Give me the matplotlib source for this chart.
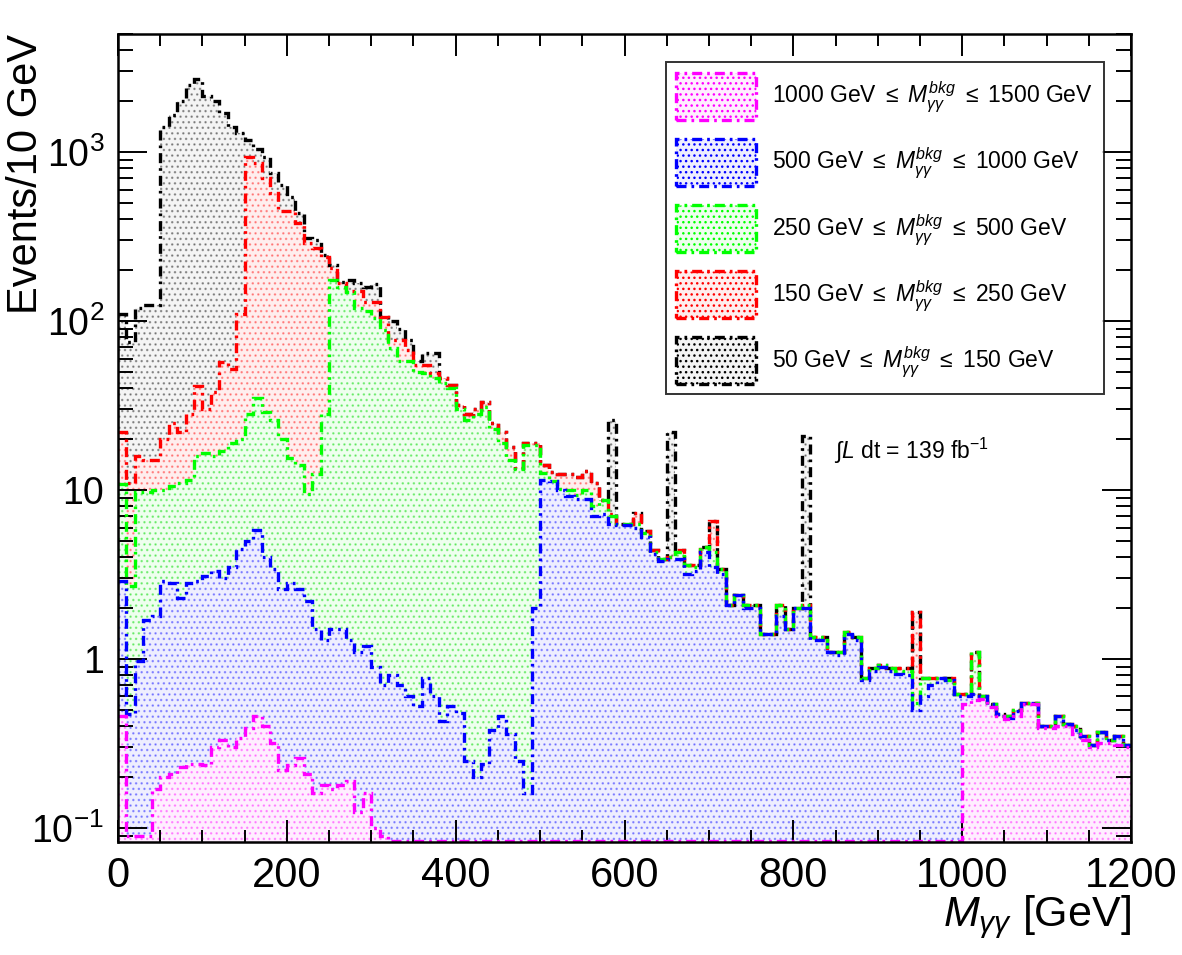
import numpy as np
import matplotlib
matplotlib.use("Agg")
import matplotlib.pyplot as plt
from matplotlib.patches import Patch
from matplotlib.ticker import MultipleLocator, LogLocator, FuncFormatter, NullFormatter

plt.rcParams["font.family"] = ["Liberation Sans", "DejaVu Sans"]
plt.rcParams["mathtext.fontset"] = "custom"
plt.rcParams["mathtext.rm"] = "Liberation Sans"
plt.rcParams["mathtext.it"] = "Liberation Sans:italic"
plt.rcParams["mathtext.bf"] = "Liberation Sans:bold"
plt.rcParams["hatch.linewidth"] = 1.0

# 120 bins of 10 GeV, 0 - 1200 GeV
bin_width = 10
bin_edges = np.arange(0, 1200 + bin_width, bin_width)

# stacked levels (top edge of every layer, as drawn), events / 10 GeV
level_50_150 = [
    110, 75, 120, 125, 125, 1400, 1650, 2000, 2500, 2700,
    2150, 2000, 1700, 1400, 1300, 1180, 1050, 930, 750, 640,
    540, 435, 310, 300, 245, 215, 170, 175, 168, 160,
    165, 105, 100, 90, 77, 58, 65, 65, 46, 42,
    32, 28, 30, 33, 25, 22, 18, 13.5, 19, 19,
    14, 12.7, 12.5, 12.5, 12, 13, 11, 8.7, 26, 6.3,
    6.3, 7.3, 5.7, 4.4, 3.9, 22, 4.4, 3.6, 3.6, 4.6,
    6.6, 3.4, 2.1, 2.4, 2.1, 2.1, 1.4, 1.4, 2.1, 1.5,
    2.0, 21, 1.35, 1.35, 1.1, 1.1, 1.45, 1.35, 0.77, 0.88,
    0.92, 0.88, 0.88, 0.88, 1.9, 0.77, 0.77, 0.77, 0.77, 0.62,
    0.62, 1.1, 0.6, 0.54, 0.47, 0.46, 0.5, 0.55, 0.55, 0.4,
    0.4, 0.46, 0.41, 0.4, 0.35, 0.31, 0.37, 0.33, 0.35, 0.31,
]

level_150_250 = [
    22, 11, 16, 15, 15, 20, 25, 22, 28, 41,
    30, 38, 57, 52, 110, 930, 860, 700, 570, 450,
    450, 380, 290, 270, 240, 205, 168, 150, 150, 130,
    130, 105, 77, 77, 67, 55, 55, 49, 46, 42,
    32, 28, 30, 33, 25, 22, 18, 13.5, 19, 19,
    14, 12.7, 12.5, 12.5, 12, 13, 11, 8.7, 7.2, 6.3,
    6.3, 7.3, 5.7, 4.4, 3.9, 4.0, 4.4, 3.6, 3.6, 4.6,
    6.6, 3.4, 2.1, 2.4, 2.1, 2.1, 1.4, 1.4, 2.1, 1.5,
    2.0, 2.1, 1.35, 1.35, 1.1, 1.1, 1.45, 1.35, 0.77, 0.88,
    0.92, 0.88, 0.88, 0.88, 1.9, 0.77, 0.77, 0.77, 0.77, 0.62,
    0.62, 1.1, 0.6, 0.54, 0.47, 0.46, 0.5, 0.55, 0.55, 0.4,
    0.4, 0.46, 0.41, 0.4, 0.35, 0.31, 0.37, 0.33, 0.35, 0.31,
]

level_250_500 = [
    10.8, 2.7, 9.8, 9.8, 10, 10, 10.5, 11, 11.5, 16,
    16.5, 16, 17, 19, 20, 28, 35, 29, 26, 20,
    15.5, 14, 9.5, 12.5, 28, 174, 160, 148, 120, 115,
    104, 88, 69, 58, 58, 50, 49, 46, 43, 40,
    30, 26, 28, 31, 23, 19, 15, 13.3, 18.5, 18.5,
    12.6, 11.3, 10.2, 10, 9.3, 10, 8, 8.7, 7, 6.3,
    6.3, 6.3, 5.6, 4.3, 3.9, 4.0, 4.3, 3.6, 3.5, 4.6,
    4.3, 3.4, 2.1, 2.4, 2.1, 2.1, 1.4, 1.4, 2.1, 1.5,
    2.0, 2.1, 1.35, 1.35, 1.1, 1.1, 1.45, 1.35, 0.77, 0.88,
    0.92, 0.88, 0.85, 0.85, 0.55, 0.77, 0.77, 0.77, 0.75, 0.62,
    0.62, 1.1, 0.6, 0.54, 0.47, 0.46, 0.5, 0.55, 0.55, 0.4,
    0.4, 0.46, 0.41, 0.4, 0.35, 0.31, 0.37, 0.33, 0.35, 0.31,
]

level_500_1000 = [
    2.9, 0.47, 0.97, 1.7, 1.8, 2.9, 2.8, 2.3, 2.8, 2.9,
    3.1, 3.3, 3.0, 3.5, 4.5, 5.0, 5.8, 4.0, 3.4, 2.6,
    2.8, 2.6, 2.2, 1.5, 1.3, 1.5, 1.5, 1.3, 1.1, 1.2,
    0.9, 0.7, 0.8, 0.7, 0.6, 0.53, 0.77, 0.6, 0.43, 0.53,
    0.48, 0.25, 0.2, 0.24, 0.38, 0.46, 0.36, 0.25, 0.16, 2.0,
    11.5, 11.3, 10, 9.2, 8.9, 8.8, 7, 7.2, 6.3, 6.2,
    6.2, 6.0, 5.3, 4.2, 3.8, 3.9, 3.9, 3.2, 3.3, 4.3,
    3.5, 3.2, 2.1, 2.4, 2.0, 2.0, 1.4, 1.4, 1.8, 1.5,
    2.0, 2.0, 1.3, 1.3, 1.1, 1.05, 1.4, 1.3, 0.75, 0.85,
    0.9, 0.85, 0.82, 0.8, 0.5, 0.6, 0.7, 0.77, 0.75, 0.6,
    0.6, 0.62, 0.6, 0.54, 0.47, 0.45, 0.49, 0.55, 0.55, 0.4,
    0.4, 0.46, 0.41, 0.38, 0.35, 0.31, 0.37, 0.33, 0.35, 0.31,
]

level_1000_1500 = [
    0.46, 0.09, 0.09, 0.09, 0.17, 0.2, 0.21, 0.23, 0.24, 0.24,
    0.235, 0.3, 0.33, 0.3, 0.34, 0.39, 0.46, 0.4, 0.32, 0.22,
    0.235, 0.26, 0.21, 0.16, 0.18, 0.17, 0.18, 0.19, 0.125, 0.16,
    0.1, 0.09, 0, 0, 0, 0, 0, 0, 0, 0,
    0, 0, 0, 0, 0, 0, 0, 0, 0, 0,
    0, 0, 0, 0, 0, 0, 0, 0, 0, 0,
    0, 0, 0, 0, 0, 0, 0, 0, 0, 0,
    0, 0, 0, 0, 0, 0, 0, 0, 0, 0,
    0, 0, 0, 0, 0, 0, 0, 0, 0, 0,
    0, 0, 0, 0, 0, 0, 0, 0, 0, 0,
    0.54, 0.57, 0.58, 0.52, 0.46, 0.44, 0.46, 0.54, 0.54, 0.39,
    0.39, 0.4, 0.4, 0.36, 0.33, 0.3, 0.32, 0.32, 0.31, 0.3,
]

labels = [
    r"50 GeV $\leq\ M_{\gamma\gamma}^{bkg}\ \leq$ 150 GeV",
    r"150 GeV $\leq\ M_{\gamma\gamma}^{bkg}\ \leq$ 250 GeV",
    r"250 GeV $\leq\ M_{\gamma\gamma}^{bkg}\ \leq$ 500 GeV",
    r"500 GeV $\leq\ M_{\gamma\gamma}^{bkg}\ \leq$ 1000 GeV",
    r"1000 GeV $\leq\ M_{\gamma\gamma}^{bkg}\ \leq$ 1500 GeV",
]

colors = ["#000000", "#ff0000", "#00ff00", "#0000ff", "#ff00ff"]
tints = ["#f4f4f4", "#ffeeee", "#eeffee", "#eeeeff", "#ffeeff"]
dots = [(0, 0, 0, 0.35), (1, 0, 0, 0.35), (0, 0.85, 0, 0.4), (0, 0, 1, 0.35), (1, 0, 1, 0.35)]

YMIN = 0.0826
YMAX = 5000
DASHDOT = (0, (3, 1.5, 0.8, 1.5))


def y_label(v, pos):
    names = {0.1: r"$\mathregular{10^{-1}}$", 1: "1", 10: "10",
             100: r"$\mathregular{10^{2}}$", 1000: r"$\mathregular{10^{3}}$"}
    for k, s in names.items():
        if abs(v - k) < 1e-6 * k:
            return s
    return ""


def main():
    fig = plt.figure(figsize=(11.82, 9.55), dpi=100)
    ax = fig.add_axes([118 / 1182, 113 / 955, 1013 / 1182, 808 / 955])

    levels = [level_50_150, level_150_250, level_250_500, level_500_1000, level_1000_1500]

    # fills first, biggest layer at the back
    for vals, tint, dcol in zip(levels, tints, dots):
        v = np.clip(np.array(vals, dtype=float), 0.084, None)
        ax.stairs(v, bin_edges, baseline=YMIN, fill=True, facecolor=tint,
                  edgecolor=dcol, hatch="...", linewidth=0, zorder=1)

    # outlines
    for vals, col in zip(levels, colors):
        v = np.clip(np.array(vals, dtype=float), 0.084, None)
        ax.stairs(v, bin_edges, baseline=None, color=col, linewidth=2.4,
                  linestyle=DASHDOT, zorder=3)

    ax.set_yscale("log")
    ax.set_xlim(0, 1200)
    ax.set_ylim(YMIN, YMAX)

    ax.xaxis.set_major_locator(MultipleLocator(200))
    ax.xaxis.set_minor_locator(MultipleLocator(50))
    ax.yaxis.set_major_locator(LogLocator(base=10, numticks=20))
    ax.yaxis.set_minor_locator(LogLocator(base=10, subs=np.arange(2, 10), numticks=20))
    ax.yaxis.set_major_formatter(FuncFormatter(y_label))
    ax.yaxis.set_minor_formatter(NullFormatter())

    ax.tick_params(which="both", direction="in", top=True, right=True, width=1.4)
    ax.tick_params(axis="x", which="major", length=16, pad=10, labelsize=30)
    ax.tick_params(axis="x", which="minor", length=8.5)
    ax.tick_params(axis="y", which="major", length=21, pad=10, labelsize=27)
    ax.tick_params(axis="y", which="minor", length=11)
    for sp in ax.spines.values():
        sp.set_linewidth(1.8)
        sp.set_zorder(5)

    ax.set_xlabel(r"$M_{\gamma\gamma}$ [GeV]", fontsize=31, loc="right")
    ax.xaxis.set_label_coords(1.0, -0.064)
    ax.set_ylabel("Events/10 GeV", fontsize=30, loc="top")
    ax.yaxis.set_label_coords(-0.071, 1.0)

    ax.text(848, 17, r"$\int L$ dt = 139 fb$^{-1}$", fontsize=16.5, va="center", zorder=6)

    handles = []
    for i in [4, 3, 2, 1, 0]:
        handles.append(Patch(facecolor=tints[i], edgecolor=colors[i], hatch="...",
                             linestyle=DASHDOT, linewidth=2.4, label=labels[i]))
    leg = ax.legend(handles=handles, loc="upper right", bbox_to_anchor=(0.973, 0.965),
                    fontsize=16.5, frameon=True, fancybox=False, borderaxespad=0,
                    handlelength=3.5, handleheight=2.78, labelspacing=0.83,
                    handletextpad=0.7, borderpad=0.45)
    leg.get_frame().set_edgecolor("black")
    leg.get_frame().set_linewidth(1.4)
    leg.set_zorder(7)

    fig.savefig("out.png", dpi=100)


if __name__ == "__main__":
    main()
